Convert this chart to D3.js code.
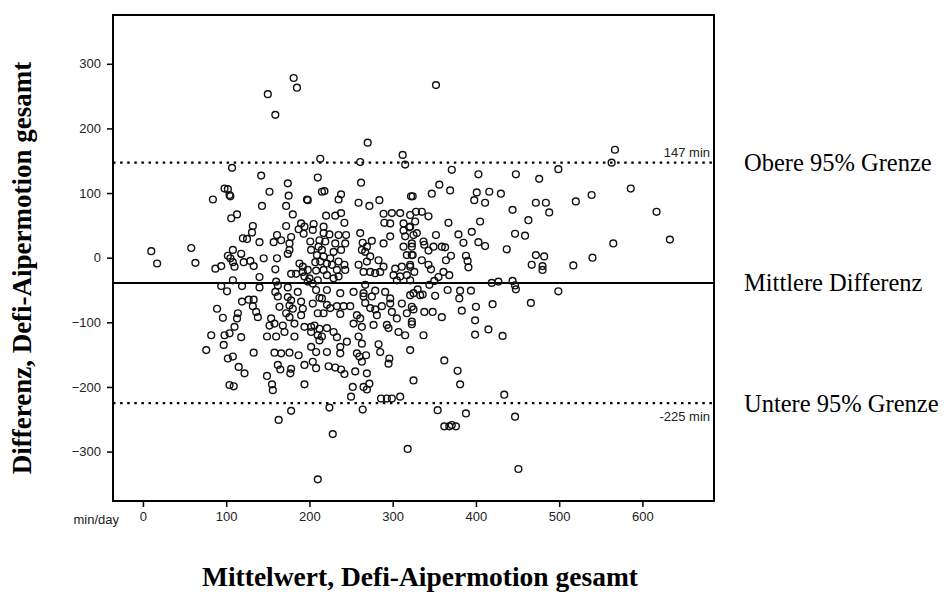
<!DOCTYPE html>
<html>
<head>
<meta charset="utf-8">
<script src="https://cdn.jsdelivr.net/npm/d3@7"></script>
<style>
  body { margin: 0; background: #fff; }
  svg { display: block; }
</style>
</head>
<body>
<div id="chart"></div>
<script>
// Bland-Altman: [mean, difference] in min/day
const points = [
  [181,278],[185,263],[150,253],[159,221],[213,153],[107,139],[142,127],[174,115],[210,124],[102,106],[105,95],[152,102],[175,96],[197,90],[215,102],[84,90],[98,107],[104,97],
  [270,178],[261,148],[312,159],[315,144],[262,116],[218,103],[238,98],[235,90],[322,95],
  [352,267],[567,167],[563,147],[371,136],[403,129],[448,129],[476,122],[499,137],[586,107],[356,113],[347,99],[369,104],[324,95],[401,101],[416,102],[430,99],[539,97],
  [10,10],[17,-9],[58,15],[63,-8],[87,-17],[94,-13],[102,3],[94,-44],[101,-52],[89,-79],[96,-93],[82,-120],[98,-120],[76,-143],[97,-135],
  [143,80],[172,80],[198,89],[113,67],[106,61],[180,67],[132,49],[131,39],[172,49],[190,53],[194,48],[205,52],[204,43],[187,44],[193,37],
  [120,30],[125,29],[140,24],[161,35],[157,24],[166,27],[178,32],[176,22],[201,25],[212,27],[211,17],[108,12],[118,6],[176,12],[174,6],[202,12],[209,4],
  [105,-1],[108,-7],[121,-7],[129,-5],[133,-13],[145,-1],[161,-1],[110,-14],[188,-9],[192,-14],[207,-7],[159,-18],[178,-25],[184,-25],[192,-22],[198,-19],[208,-20],
  [140,-30],[200,-32],[194,-29],[108,-35],[119,-44],[140,-46],[160,-37],[162,-43],[174,-46],[198,-37],[210,-35],[204,-40],[159,-53],[162,-60],[174,-61],[178,-66],[208,-50],[212,-62],[186,-53],
  [119,-68],[127,-65],[133,-65],[132,-75],[164,-76],[176,-74],[180,-79],[190,-68],[192,-79],[204,-71],[114,-86],[136,-84],[138,-92],[172,-86],[176,-92],[190,-89],[210,-86],
  [113,-94],[154,-94],[152,-105],[158,-102],[168,-105],[182,-102],[194,-107],[202,-107],[206,-105],[212,-110],[110,-107],[104,-117],[118,-123],[149,-122],[160,-122],[170,-115],[182,-122],[202,-115],[210,-120],[212,-128],
  [133,-147],[158,-147],[176,-147],[208,-146],[202,-138],
  [259,85],[272,80],[284,89],[220,65],[231,65],[238,69],[242,54],[289,68],[299,69],[309,69],[321,66],[290,54],[297,53],[313,53],[320,47],[313,42],[217,48],[217,38],[224,36],[235,35],[244,35],[261,38],[297,33],[315,33],[325,35],
  [219,25],[231,22],[243,22],[264,23],[275,26],[289,22],[269,17],[263,12],[313,17],[323,17],[215,12],[229,9],[238,12],[267,9],[273,2],[317,4],[324,4],[217,2],[225,-1],
  [213,-6],[221,-9],[227,-11],[235,-6],[242,-11],[259,-11],[269,-6],[283,-4],[289,-14],[303,-17],[311,-14],[321,-14],[217,-19],[233,-19],[243,-19],[221,-27],[229,-32],[235,-29],
  [265,-22],[273,-22],[279,-24],[285,-22],[301,-27],[309,-29],[317,-27],[326,-22],[305,-35],[267,-42],[253,-53],[237,-55],[221,-50],[265,-55],[279,-51],[291,-53],[265,-60],[275,-60],[297,-63],[321,-58],[215,-63],
  [221,-73],[233,-75],[241,-75],[249,-75],[267,-70],[273,-78],[279,-80],[287,-75],[297,-71],[311,-71],[323,-76],[225,-78],[217,-86],[237,-87],[257,-89],[261,-94],[281,-89],[299,-84],[305,-94],[317,-86],
  [253,-102],[263,-107],[277,-104],[293,-104],[295,-109],[323,-99],[221,-109],[229,-115],[215,-122],[233,-123],[245,-130],[259,-122],[263,-133],[283,-134],[307,-115],[315,-120],[237,-138],[221,-146],[285,-146],[321,-143],
  [398,89],[411,85],[472,85],[484,85],[520,87],[328,71],[335,71],[327,56],[343,64],[367,54],[405,56],[444,74],[463,58],[488,70],[617,71],[329,38],[352,35],[379,36],[395,40],[447,37],[459,34],[321,48],
  [337,25],[338,20],[349,17],[359,17],[363,16],[385,23],[403,24],[411,18],[437,13],[565,22],[633,28],[323,22],[343,11],[323,4],[370,3],[364,-4],[388,3],[390,-5],[391,-15],[472,4],[482,2],[540,0],
  [335,-4],[343,-11],[346,-18],[321,-11],[467,-11],[480,-13],[480,-19],[517,-12],[361,-22],[368,-27],[355,-30],[350,-36],[344,-42],[419,-39],[427,-37],[444,-36],[447,-43],[448,-49],[499,-52],[321,-35],
  [330,-49],[325,-55],[333,-58],[336,-57],[351,-59],[366,-50],[381,-51],[380,-63],[394,-51],[420,-72],[466,-70],[400,-76],[383,-82],[338,-84],[348,-84],[359,-92],[325,-80],[323,-103],[399,-97],[415,-111],[399,-119],[432,-121],[337,-120],
  [102,-156],[104,-197],[108,-153],[166,-148],[187,-151],[204,-161],[208,-171],[194,-166],[115,-169],[122,-179],[109,-199],[149,-183],[162,-166],[165,-173],[178,-172],[177,-179],[155,-196],[156,-205],[194,-196],[178,-237],[163,-251],[210,-343],
  [237,-148],[257,-148],[268,-151],[263,-161],[260,-153],[296,-156],[295,-164],[223,-168],[231,-170],[238,-173],[242,-180],[255,-176],[269,-179],[252,-200],[250,-215],[265,-200],[269,-204],[272,-195],
  [286,-218],[293,-218],[299,-218],[309,-215],[325,-190],[224,-232],[264,-235],[228,-273],[318,-296],
  [362,-159],[378,-175],[381,-196],[434,-212],[354,-236],[388,-241],[447,-246],[362,-261],[368,-261],[371,-259],[376,-261],[451,-327]
];

const upperLimit = 147;
const meanDiff = -39;
const lowerLimit = -225;

const xTicks = [0, 100, 200, 300, 400, 500, 600];
const yTicks = [-300, -200, -100, 0, 100, 200, 300];
const limitLabels = ["Obere 95% Grenze", "Mittlere Differenz", "Untere 95% Grenze"];

const W = 944, H = 594;
const frame = { left: 113, top: 15, right: 714, bottom: 501 };
const sans = "Liberation Sans, Arial, sans-serif";
const serif = "Liberation Serif, Times New Roman, serif";

const svg = d3.select("#chart").append("svg")
    .attr("width", W)
    .attr("height", H);

const x = d3.scaleLinear().domain([-36, 686]).range([frame.left, frame.right]);
const y = d3.scaleLinear().domain([-376.5, 375.5]).range([frame.bottom, frame.top]);

// axes
svg.append("g")
    .attr("transform", `translate(0,${frame.bottom})`)
    .call(d3.axisBottom(x).tickValues(xTicks).tickSize(6).tickPadding(5).tickFormat(d3.format("d")))
    .call(g => g.select(".domain").remove())
    .call(g => g.selectAll("line").attr("stroke", "#000").attr("stroke-width", 1.5))
    .call(g => g.selectAll("text").attr("font-family", sans).attr("font-size", 13).attr("fill", "#222"));

svg.append("g")
    .attr("transform", `translate(${frame.left},0)`)
    .call(d3.axisLeft(y).tickValues(yTicks).tickSize(6).tickPadding(6).tickFormat(d3.format("d")))
    .call(g => g.select(".domain").remove())
    .call(g => g.selectAll("line").attr("stroke", "#000").attr("stroke-width", 1.5))
    .call(g => g.selectAll("text").attr("font-family", sans).attr("font-size", 13).attr("fill", "#222"));

svg.append("text")
    .attr("x", 119)
    .attr("y", frame.bottom + 23)
    .attr("text-anchor", "end")
    .attr("font-family", sans)
    .attr("font-size", 13)
    .attr("fill", "#222")
    .text("min/day");

// reference lines
svg.append("line")
    .attr("x1", frame.left).attr("x2", frame.right)
    .attr("y1", y(meanDiff)).attr("y2", y(meanDiff))
    .attr("stroke", "#000").attr("stroke-width", 2);

[upperLimit, lowerLimit].forEach(v => {
    svg.append("line")
        .attr("x1", frame.left).attr("x2", frame.right)
        .attr("y1", y(v)).attr("y2", y(v))
        .attr("stroke", "#000").attr("stroke-width", 2.2)
        .attr("stroke-dasharray", "2.5,4.6");
});

svg.append("text")
    .attr("x", frame.right - 4).attr("y", y(upperLimit) - 6)
    .attr("text-anchor", "end")
    .attr("font-family", sans)
    .attr("font-size", 13).attr("fill", "#222")
    .text(upperLimit + " min");

svg.append("text")
    .attr("x", frame.right - 4).attr("y", y(lowerLimit) + 18)
    .attr("text-anchor", "end")
    .attr("font-family", sans)
    .attr("font-size", 13).attr("fill", "#222")
    .text(lowerLimit + " min");

// points
svg.append("g")
    .selectAll("circle")
    .data(points)
    .enter().append("circle")
    .attr("cx", d => x(d[0]))
    .attr("cy", d => y(d[1]))
    .attr("r", 3.4)
    .attr("fill", "none")
    .attr("stroke", "#111")
    .attr("stroke-width", 1.4);

// frame
svg.append("rect")
    .attr("x", frame.left).attr("y", frame.top)
    .attr("width", frame.right - frame.left)
    .attr("height", frame.bottom - frame.top)
    .attr("fill", "none")
    .attr("stroke", "#000")
    .attr("stroke-width", 2);

// labels to the right
[upperLimit, meanDiff, lowerLimit].forEach((v, i) => {
    svg.append("text")
        .attr("x", 744)
        .attr("y", y(v))
        .attr("dy", "0.35em")
        .attr("font-family", serif)
        .attr("font-size", 24.5)
        .attr("fill", "#000")
        .text(limitLabels[i]);
});

// axis titles
svg.append("text")
    .attr("x", 420)
    .attr("y", 586)
    .attr("text-anchor", "middle")
    .attr("font-family", serif)
    .attr("font-weight", "bold")
    .attr("font-size", 27.5)
    .text("Mittelwert, Defi-Aipermotion gesamt");

svg.append("text")
    .attr("transform", `translate(31,268) rotate(-90)`)
    .attr("text-anchor", "middle")
    .attr("font-family", serif)
    .attr("font-weight", "bold")
    .attr("font-size", 27)
    .text("Differenz, Defi-Aipermotion gesamt");
</script>
</body>
</html>
